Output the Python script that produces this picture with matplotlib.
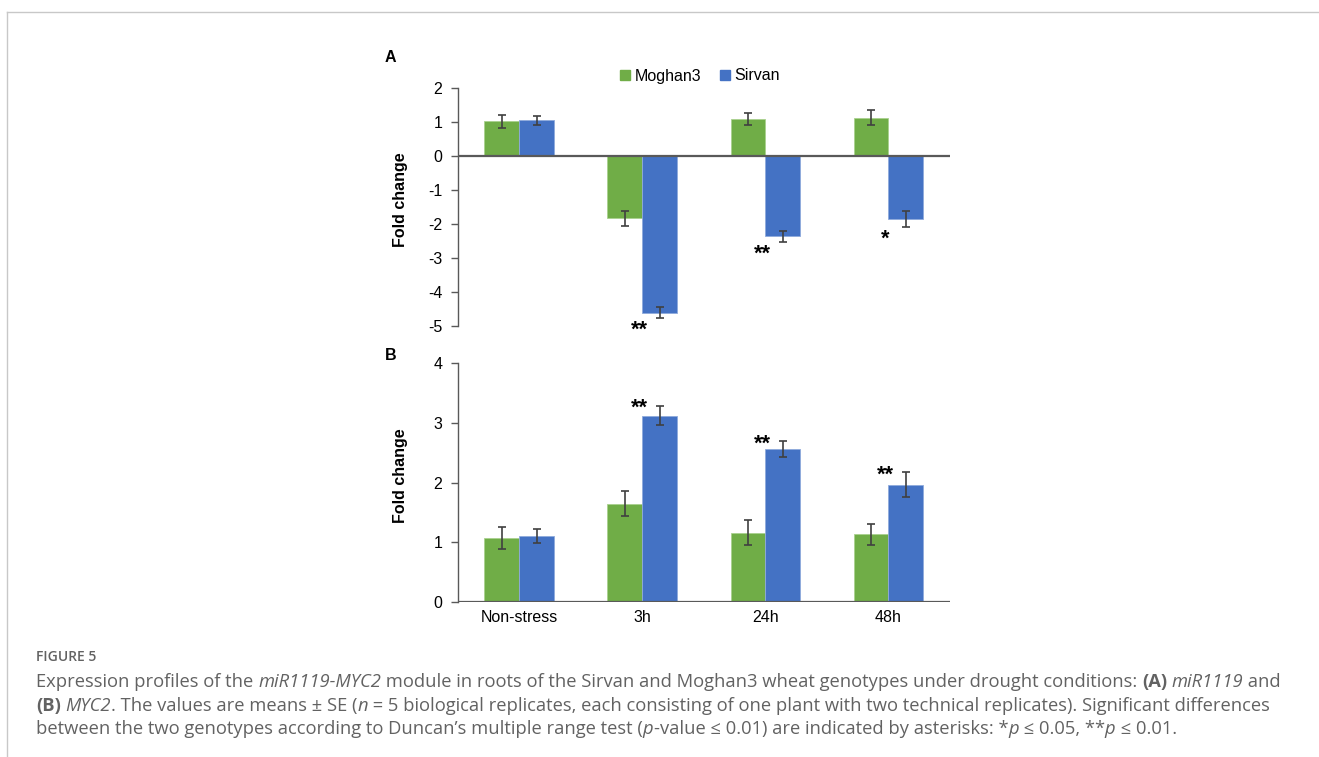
import matplotlib
matplotlib.use("Agg")
import matplotlib.pyplot as plt
from matplotlib.lines import Line2D
from matplotlib.patches import Patch
import numpy as np

# data
cats = ["Non-stress", "3h", "24h", "48h"]

a_mog = [1.02, -1.83, 1.07, 1.12]
a_mog_err = [0.19, 0.22, 0.18, 0.22]
a_sir = [1.04, -4.61, -2.36, -1.85]
a_sir_err = [0.13, 0.16, 0.16, 0.24]
a_sig = ["", "**", "**", "*"]

b_mog = [1.07, 1.64, 1.16, 1.13]
b_mog_err = [0.18, 0.21, 0.21, 0.18]
b_sir = [1.10, 3.12, 2.56, 1.96]
b_sir_err = [0.12, 0.16, 0.13, 0.21]
b_sig = ["", "**", "**", "**"]

GREEN = "#70AD47"
BLUE = "#4472C4"
AXC = "#595959"
W, H = 1319, 757

plt.rcParams["font.family"] = ["Liberation Sans", "DejaVu Sans"]
plt.rcParams["axes.unicode_minus"] = False

fig = plt.figure(figsize=(W / 100, H / 100), dpi=100)


def fx(px):
    return px / W


def fy(py):
    return 1 - py / H


def panel(rect, mog, mog_err, sir, sir_err, ylim, yticks):
    ax = fig.add_axes(rect)
    x = np.arange(len(cats))
    bw = 0.283
    ekw = dict(ecolor="#404040", elinewidth=1.2, capsize=3, capthick=1.2)
    ax.bar(x - bw / 2, mog, bw, color=GREEN, edgecolor="#a9d18e", linewidth=0.6,
           yerr=mog_err, error_kw=ekw)
    ax.bar(x + bw / 2, sir, bw, color=BLUE, edgecolor="#8faadc", linewidth=0.6,
           yerr=sir_err, error_kw=ekw)
    ax.set_xlim(-0.5, len(cats) - 0.5)
    ax.set_ylim(*ylim)
    ax.set_yticks(yticks)
    ax.tick_params(axis="y", direction="out", length=5, width=1, color=AXC,
                   labelsize=11.5, pad=6)
    for s in ["top", "right", "bottom"]:
        ax.spines[s].set_visible(False)
    ax.spines["left"].set_color(AXC)
    ax.spines["left"].set_linewidth(1)
    ax.axhline(0, color=AXC, linewidth=1.6, zorder=3)
    ax.set_ylabel("Fold change", fontsize=11.5, fontweight="bold")
    ax.yaxis.set_label_coords(-0.101, 0.529)
    ax.set_facecolor("none")
    return ax, x


def stars(ax, xs, ys, marks, dy):
    for xi, yi, s in zip(xs, ys, marks):
        if s:
            ax.annotate(s, xy=(xi, yi), xytext=(-3, dy), textcoords="offset pixels",
                        ha="center", va="baseline", fontsize=15.5, fontweight="bold")


# panel A
axA, x = panel([fx(457.7), fy(326), fx(950) - fx(457.7), fy(87.7) - fy(326)],
               a_mog, a_mog_err, a_sir, a_sir_err, (-5, 2), range(-5, 3))
axA.set_xticks([])
stars(axA, x, np.array(a_sir) - np.array(a_sir_err), a_sig, -18)

# panel B
axB, x = panel([fx(457.7), fy(601.7), fx(950) - fx(457.7), fy(363.3) - fy(601.7)],
               b_mog, b_mog_err, b_sir, b_sir_err, (0, 4), range(0, 5))
axB.set_xticks(x)
axB.set_xticklabels(cats, fontsize=11.5)
axB.tick_params(axis="x", length=0, pad=6)
stars(axB, x, np.array(b_sir) + np.array(b_sir_err), b_sig, -8)

fig.text(fx(385), fy(57), "A", fontsize=11.5, fontweight="bold", va="center")
fig.text(fx(385), fy(356), "B", fontsize=11.5, fontweight="bold", va="center")

handles = [Patch(color=GREEN, label="Moghan3"), Patch(color=BLUE, label="Sirvan")]
fig.legend(handles=handles, loc="center", bbox_to_anchor=(fx(700), fy(76)),
           ncol=2, frameon=False, fontsize=11.5, handlelength=0.6,
           handleheight=0.6, handletextpad=0.3, columnspacing=1.2)

# page frame
fig.add_artist(Line2D([fx(7), 1], [fy(12), fy(12)], color="#c8c8c8", lw=1))
fig.add_artist(Line2D([fx(7), fx(7)], [fy(12), 0], color="#c8c8c8", lw=1))

# caption
CAP = ["Open Sans", "DejaVu Sans"]
CC = "#626262"
fig.text(fx(36), fy(661), "FIGURE 5", fontsize=10, family=CAP, color=CC,
         fontweight="semibold", va="baseline")

lines = [
    [("Expression profiles of the ", "n"), ("miR1119-MYC2", "i"),
     (" module in roots of the Sirvan and Moghan3 wheat genotypes under drought conditions: ", "n"),
     ("(A)", "b"), (" ", "n"), ("miR1119", "i"), (" and", "n")],
    [("(B)", "b"), (" ", "n"), ("MYC2", "i"), (". The values are means \u00b1 SE (", "n"),
     ("n", "i"), (" = 5 biological replicates, each consisting of one plant with two technical replicates). Significant differences", "n")],
    [("between the two genotypes according to Duncan\u2019s multiple range test (", "n"),
     ("p", "i"), ("-value \u2264 0.01) are indicated by asterisks: *", "n"), ("p", "i"),
     (" \u2264 0.05, **", "n"), ("p", "i"), (" \u2264 0.01.", "n")],
]
baselines = [686.7, 710.7, 734.3]
fs = 13.2

renderer = fig.canvas.get_renderer()


def width_px(s, style):
    kw = dict(fontsize=fs, family=CAP)
    if style == "i":
        kw["style"] = "italic"
    if style == "b":
        kw["fontweight"] = "bold"
    t1 = fig.text(0, 0, "|" + s + "|", **kw)
    t2 = fig.text(0, 0, "||", **kw)
    w = t1.get_window_extent(renderer).width - t2.get_window_extent(renderer).width
    t1.remove()
    t2.remove()
    return w


for runs, yb in zip(lines, baselines):
    xp = 36.0
    for s, style in runs:
        kw = dict(fontsize=fs, family=CAP, color=CC, va="baseline")
        if style == "i":
            kw["style"] = "italic"
        if style == "b":
            kw["fontweight"] = "bold"
        fig.text(fx(xp), fy(yb), s, **kw)
        xp += width_px(s, style)

fig.savefig("out.png", dpi=100)
